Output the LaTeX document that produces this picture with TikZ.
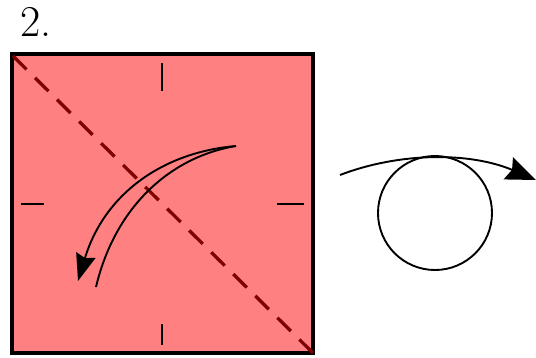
\documentclass[tikz,border=0pt]{standalone}
\usepackage{xcolor}
\definecolor{papersalmon}{RGB}{255,128,128}
\definecolor{folddark}{RGB}{128,0,0}
\usetikzlibrary{arrows.meta,positioning}

\begin{document}
\begin{tikzpicture}[x=1pt,y=1pt]
  \useasboundingbox (0,0) rectangle (536,357);
  % step label
  \node[anchor=base west,inner sep=0pt,font=\fontsize{44}{44}\selectfont]
        (lbl) at (20,320) {2.};
  % paper square
  \draw[fill=papersalmon,line width=3.3pt] (12,4) rectangle (313,303);
  % centre ticks
  \draw[line width=1.1pt] (162,294) -- (162,266);
  \draw[line width=1.1pt] (162,33) -- (162,12);
  \draw[line width=1.1pt] (21,153) -- (44,153);
  \draw[line width=1.1pt] (277,153) -- (304,153);
  % diagonal valley fold line
  \draw[folddark,line width=3.3pt,dash pattern=on 19pt off 12pt]
        (13,301) -- (313,4);
  % fold arrow
  \coordinate (fa) at (236,211);
  \coordinate (fb) at (78,76);
  \coordinate (fc) at (96,70);
  \draw[line width=1.9pt,-{Triangle[length=27pt,width=20pt,inset=3pt]}]
        (fa) .. controls (165,205) and (105,165) .. (fb);
  \draw[line width=1.9pt]
        (fa) .. controls (170,200) and (115,150) .. (fc);
  % turn over symbol
  \draw[line width=1.9pt] (435,144) circle (57);
  \coordinate (ta) at (340,182);
  \coordinate (tb) at (536,177);
  \draw[line width=1.9pt,-{Triangle[length=30pt,width=24pt,inset=4pt]}]
        (ta) .. controls (400,205) and (470,205) .. (tb);
\end{tikzpicture}
\end{document}
